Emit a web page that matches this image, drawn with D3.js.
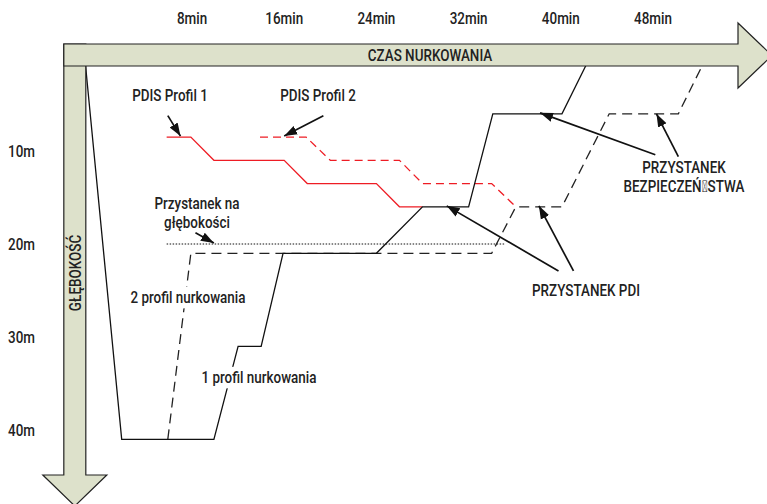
<!DOCTYPE html>
<html>
<head>
<meta charset="utf-8">
<script src="https://cdnjs.cloudflare.com/ajax/libs/d3/7.8.5/d3.min.js"></script>
<style>
  body { margin: 0; background: #fff; }
  svg text { font-family: Roboto, "Noto Sans", sans-serif; font-weight: 500; font-size: 16px; fill: #222; }
</style>
</head>
<body>
<svg width="767" height="504"></svg>
<script>
// time ticks (minutes) and depth ticks (metres)
var timeTicks = [8, 16, 24, 32, 40, 48];
var timeLabels = ["8min", "16min", "24min", "32min", "40min", "48min"];
var depthTicks = [10, 20, 30, 40];
var depthLabels = ["10m", "20m", "30m", "40m"];

// dive profiles: t = minutes, d = metres
var profile1 = [
  {t: -1.3, d: 0}, {t: 1.9, d: 41}, {t: 9.9, d: 41}, {t: 12, d: 31}, {t: 14, d: 31},
  {t: 15.9, d: 21}, {t: 24, d: 21}, {t: 28, d: 16}, {t: 32, d: 16}, {t: 34.1, d: 6},
  {t: 40.1, d: 6}, {t: 42.5, d: 0}
];
var profile2 = [
  {t: 5.9, d: 41}, {t: 7.9, d: 21}, {t: 34, d: 21}, {t: 36.1, d: 16}, {t: 40.1, d: 16},
  {t: 44.2, d: 6}, {t: 50.2, d: 6}, {t: 52.6, d: 0}
];
var pdis1 = [
  {t: 5.8, d: 8.5}, {t: 7.9, d: 8.5}, {t: 9.9, d: 11}, {t: 16, d: 11}, {t: 18, d: 13.5},
  {t: 24, d: 13.5}, {t: 26, d: 16}, {t: 28, d: 16}
];
var pdis2 = [
  {t: 13.9, d: 8.5}, {t: 17.9, d: 8.5}, {t: 20, d: 11}, {t: 26, d: 11}, {t: 28, d: 13.5},
  {t: 34, d: 13.5}, {t: 36.1, d: 16}
];
var deepStop = [{t: 5.8, d: 20}, {t: 35.2, d: 20}];

// annotation arrows [from, to]
var arrows = [
  [{t: 5.9, d: 6.2}, {t: 7.0, d: 8.4}],
  [{t: 19.4, d: 6.2}, {t: 16.0, d: 8.4}],
  [{t: 8.3, d: 18.8}, {t: 9.9, d: 19.9}],
  [{t: 39.8, d: 22.9}, {t: 30.1, d: 15.9}],
  [{t: 41.1, d: 22.9}, {t: 38.1, d: 15.9}],
  [{t: 48.2, d: 10.4}, {t: 38.2, d: 5.9}],
  [{t: 50.2, d: 10.6}, {t: 48.3, d: 6.0}]
];

var svg = d3.select("svg");

var x = d3.scaleLinear().domain([8, 48]).range([192, 653]);
var y = d3.scaleLinear().domain([10, 40]).range([151, 430]);

var line = d3.line()
    .x(function(p) { return x(p.t); })
    .y(function(p) { return y(p.d); });

svg.append("defs").append("marker")
    .attr("id", "head")
    .attr("viewBox", "0 -5 10 10")
    .attr("refX", 10)
    .attr("refY", 0)
    .attr("markerUnits", "userSpaceOnUse")
    .attr("markerWidth", 13)
    .attr("markerHeight", 13)
    .attr("orient", "auto")
  .append("path")
    .attr("d", "M0,-3.6L10,0L0,3.6Z")
    .attr("fill", "#111");

// condensed text: narrow the glyphs horizontally
var squeeze = 0.84;
function txt(str, px, py, anchor, rot) {
  return svg.append("text")
      .attr("transform", "translate(" + px + "," + py + ")" + (rot ? " rotate(" + rot + ")" : "") + " scale(" + squeeze + ",1)")
      .attr("text-anchor", anchor || "middle")
      .text(str);
}

// profile lines
svg.append("path").datum(deepStop)
    .attr("d", line).attr("fill", "none")
    .attr("stroke", "#111").attr("stroke-width", 1).attr("stroke-dasharray", "1.5,1.5");

svg.append("path").datum(pdis1)
    .attr("d", line).attr("fill", "none")
    .attr("stroke", "#ee1c24").attr("stroke-width", 1.3);

svg.append("path").datum(pdis2)
    .attr("d", line).attr("fill", "none")
    .attr("stroke", "#ee1c24").attr("stroke-width", 1.3).attr("stroke-dasharray", "8,5");

svg.append("path").datum(profile2)
    .attr("d", line).attr("fill", "none")
    .attr("stroke", "#222").attr("stroke-width", 1.3).attr("stroke-dasharray", "10,6");

svg.append("path").datum(profile1)
    .attr("d", line).attr("fill", "none")
    .attr("stroke", "#111").attr("stroke-width", 1.3);

// big axis arrows
var fill = "#dde1cb";
var ax0 = x(-1.3) - 21, ay0 = y(0) - 14;
var vBar = [[ax0, ay0], [ax0 + 22, ay0], [ax0 + 22, 475], [ax0 + 43, 475], [ax0 + 11, 506], [ax0 - 21, 475], [ax0, 475]];
svg.append("path")
    .attr("d", d3.line()(vBar) + "Z")
    .attr("fill", fill).attr("stroke", "#222").attr("stroke-width", 1.2);

var hBar = [[ax0, ay0], [738, ay0], [738, 23], [772, 55.5], [738, 88], [738, ay0 + 22], [ax0, ay0 + 22]];
svg.append("path")
    .attr("d", d3.line()(hBar) + "Z")
    .attr("fill", fill).attr("stroke", "#222").attr("stroke-width", 1.2);

txt("CZAS NURKOWANIA", 430, ay0 + 17);
txt("GŁĘBOKOŚĆ", ax0 + 17, 273, "middle", -90);

// tick labels
timeTicks.forEach(function(d, i) { txt(timeLabels[i], x(d), 24); });
depthTicks.forEach(function(d, i) { txt(depthLabels[i], 8, y(d) + 6, "start"); });

// annotation arrows
svg.selectAll(".arr").data(arrows).enter().append("line")
    .attr("class", "arr")
    .attr("x1", function(a) { return x(a[0].t); })
    .attr("y1", function(a) { return y(a[0].d); })
    .attr("x2", function(a) { return x(a[1].t); })
    .attr("y2", function(a) { return y(a[1].d); })
    .attr("stroke", "#111").attr("stroke-width", 1.7)
    .attr("marker-end", "url(#head)");

// labels
function label(str, cx, cy, bg) {
  var t = txt(str, cx, cy + 6);
  if (bg) {
    var b = t.node().getBBox();
    var w = b.width * squeeze;
    svg.insert("rect", function() { return t.node(); })
        .attr("x", cx - w / 2 - 3).attr("y", cy + 6 + b.y - 1)
        .attr("width", w + 6).attr("height", b.height + 2)
        .attr("fill", "#fff");
  }
}
label("PDIS Profil 1", 170, 95);
label("PDIS Profil 2", 318, 95);
label("Przystanek na", 197, 203);
label("głębokości", 197, 222);
label("2 profil nurkowania", 188, 297, true);
label("1 profil nurkowania", 259, 377, true);
label("PRZYSTANEK PDI", 586, 290);
label("PRZYSTANEK", 684, 167);
label("BEZPIECZEŃ\uE000STWA", 684, 186);
</script>
</body>
</html>
